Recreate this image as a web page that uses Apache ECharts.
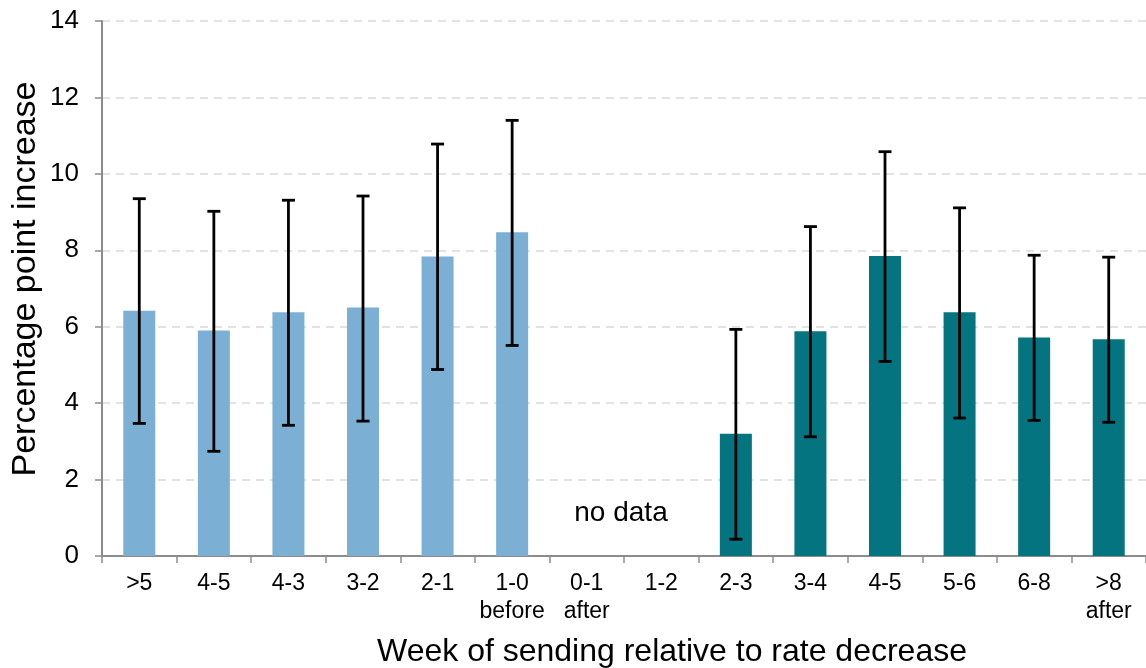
<!DOCTYPE html>
<html>
<head>
<meta charset="utf-8">
<script src="https://cdn.jsdelivr.net/npm/echarts@6/dist/echarts.min.js"></script>
<style>
html,body{margin:0;padding:0;background:#fff;}
#chart{width:1146px;height:668px;}
</style>
</head>
<body>
<div id="chart"></div>
<script>
// ---- data ----
var categories = ['>5', '4-5', '4-3', '3-2', '2-1', '1-0\nbefore', '0-1\nafter', '1-2', '2-3', '3-4', '4-5', '5-6', '6-8', '>8\nafter'];
var period = ['before','before','before','before','before','before','none','none','after','after','after','after','after','after'];
var values = [6.42, 5.90, 6.38, 6.50, 7.84, 8.47, null, null, 3.20, 5.88, 7.85, 6.38, 5.72, 5.67];
var errLow = [3.47, 2.74, 3.42, 3.53, 4.88, 5.51, null, null, 0.44, 3.12, 5.09, 3.61, 3.55, 3.50];
var errHigh = [9.35, 9.02, 9.31, 9.42, 10.78, 11.40, null, null, 5.93, 8.62, 10.58, 9.11, 7.87, 7.82];
var yTicks = [0, 2, 4, 6, 8, 10, 12, 14];
var noDataText = 'no data';
var xTitle = 'Week of sending relative to rate decrease';
var yTitle = 'Percentage point increase';

var colors = { before: '#7BAFD4', after: '#037480', none: '#ffffff' };
var FONT = '"Liberation Sans", Arial, sans-serif';

var barData = values.map(function (v, i) {
  return v == null ? '-' : { value: v, itemStyle: { color: colors[period[i]] } };
});
var errData = [];
for (var i = 0; i < categories.length; i++) {
  if (errLow[i] != null) errData.push([i, errLow[i], errHigh[i]]);
}

var chart = echarts.init(document.getElementById('chart'), null, { renderer: 'canvas' });
var option = {
  animation: false,
  backgroundColor: '#ffffff',
  grid: { left: 102, top: 21, width: 1050, height: 535, containLabel: false },
  xAxis: {
    type: 'category',
    data: categories,
    boundaryGap: true,
    axisLine: { show: true, lineStyle: { color: '#8c8c8c', width: 2 } },
    axisTick: { show: true, length: 7, alignWithLabel: false, lineStyle: { color: '#8c8c8c', width: 1.5 } },
    axisLabel: { interval: 0, margin: 14, color: '#000', fontSize: 23, fontFamily: FONT, lineHeight: 28 },
    splitLine: { show: false }
  },
  yAxis: {
    type: 'value',
    min: yTicks[0],
    max: yTicks[yTicks.length - 1],
    interval: 2,
    axisLine: { show: true, lineStyle: { color: '#8c8c8c', width: 2 } },
    axisTick: { show: true, length: 7, lineStyle: { color: '#8c8c8c', width: 1.5 } },
    axisLabel: { margin: 23, color: '#000', fontSize: 26, fontFamily: FONT },
    splitLine: { show: true, lineStyle: { color: '#d9d9d9', width: 1.5, type: [8, 6] } }
  },
  series: [
    {
      type: 'bar',
      data: barData,
      barWidth: 32,
      z: 2
    },
    {
      type: 'custom',
      z: 5,
      data: errData,
      encode: { x: 0, y: [1, 2] },
      renderItem: function (params, api) {
        var x = api.value(0);
        var lo = api.coord([x, api.value(1)]);
        var hi = api.coord([x, api.value(2)]);
        var half = 6.5;
        var style = { stroke: '#000', lineWidth: 2.8 };
        return {
          type: 'group',
          children: [
            { type: 'line', shape: { x1: hi[0], y1: hi[1], x2: lo[0], y2: lo[1] }, style: style },
            { type: 'line', shape: { x1: hi[0] - half, y1: hi[1], x2: hi[0] + half, y2: hi[1] }, style: style },
            { type: 'line', shape: { x1: lo[0] - half, y1: lo[1], x2: lo[0] + half, y2: lo[1] }, style: style }
          ]
        };
      }
    }
  ]
};
chart.setOption(option);

// annotation + axis titles
var p6 = chart.convertToPixel({ gridIndex: 0 }, [6, 1.13]);
var p7 = chart.convertToPixel({ gridIndex: 0 }, [7, 1.13]);
chart.setOption({
  graphic: [
    {
      type: 'text',
      x: (p6[0] + p7[0]) / 2 - 3,
      y: p6[1],
      style: { text: noDataText, font: '28px ' + FONT, fill: '#000', align: 'center', verticalAlign: 'middle' }
    },
    {
      type: 'text',
      x: 672, y: 652,
      style: { text: xTitle, font: '32px ' + FONT, fill: '#000', align: 'center', verticalAlign: 'middle' }
    },
    {
      type: 'text',
      x: 26, y: 279,
      rotation: Math.PI / 2,
      style: { text: yTitle, font: '34px ' + FONT, fill: '#000', align: 'center', verticalAlign: 'middle' }
    }
  ]
});
</script>
</body>
</html>
